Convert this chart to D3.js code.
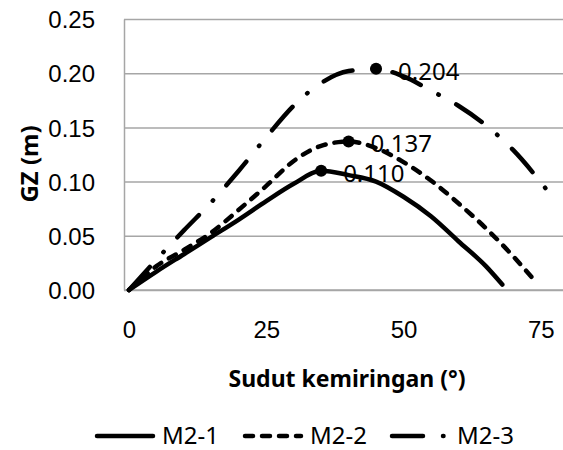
<!DOCTYPE html>
<html>
<head>
<meta charset="utf-8">
<script src="https://cdn.jsdelivr.net/npm/d3@7/dist/d3.min.js"></script>
<style>
  body { margin: 0; background: #fff; }
  svg { display: block; font-family: "Noto Sans", "Open Sans", sans-serif; }
</style>
</head>
<body>
<svg id="chart" width="563" height="450"></svg>
<script>
// angles (deg) and GZ (m)
const angM21 = [0, 5, 10, 15, 20, 25, 30, 35, 40, 45, 50, 55, 60, 65, 68];
const gzM21  = [0, 0.017, 0.033, 0.049, 0.065, 0.082, 0.098, 0.110, 0.106, 0.100, 0.086, 0.068, 0.045, 0.022, 0.005];
const angM22 = [0, 5, 10, 15, 20, 25, 30, 35, 40, 45, 50, 55, 60, 65, 70, 74];
const gzM22  = [0, 0.022, 0.037, 0.053, 0.074, 0.096, 0.119, 0.133, 0.137, 0.131, 0.118, 0.101, 0.080, 0.057, 0.031, 0.008];
const angM23 = [0, 5, 10, 15, 20, 25, 30, 35, 40, 45, 50, 55, 60, 65, 70, 76];
const gzM23  = [0, 0.028, 0.055, 0.081, 0.110, 0.141, 0.170, 0.191, 0.202, 0.204, 0.197, 0.184, 0.170, 0.152, 0.129, 0.093];

const seriesNames = ["M2-1", "M2-2", "M2-3"];
const peakAngles = [35, 40, 45];
const peakValues = [0.110, 0.137, 0.204];
const xTicks = [0, 25, 50, 75];
const yTicks = [0, 0.05, 0.10, 0.15, 0.20, 0.25];

const dashes = [null, "8,9", "31,20,0.5,20"];

const svg = d3.select("#chart");
const W = 563;
const plotLeft = 124, plotTop = 19, plotBottom = 290;

const x = d3.scaleLinear().domain([0, 80]).range([129, 129 + 80 * 5.49]);
const y = d3.scaleLinear().domain([0, 0.25]).range([plotBottom, plotTop]);

// gridlines + y labels
const yAxis = svg.append("g")
  .attr("transform", `translate(${plotLeft},0)`)
  .call(d3.axisLeft(y).tickValues(yTicks).tickFormat(d3.format(".2f"))
    .tickSizeInner(-(W - plotLeft)).tickSizeOuter(0).tickPadding(29));
yAxis.select(".domain").attr("stroke", "#a6a6a6").attr("stroke-width", 1.5);
yAxis.selectAll(".tick line").attr("stroke", "#a6a6a6").attr("stroke-width", 1.5);
yAxis.selectAll(".tick text").attr("font-size", 24).attr("fill", "#000").attr("dy", "0.36em");

// x axis
const xAxis = svg.append("g")
  .attr("transform", `translate(0,${plotBottom})`)
  .call(d3.axisBottom(x).tickValues(xTicks).tickSize(0).tickPadding(31));
xAxis.select(".domain").remove();
xAxis.selectAll(".tick text").attr("font-size", 24).attr("fill", "#000");
svg.append("line")
  .attr("x1", plotLeft).attr("x2", W).attr("y1", plotBottom).attr("y2", plotBottom)
  .attr("stroke", "#a6a6a6").attr("stroke-width", 1.5);

// titles
svg.append("text")
  .attr("transform", `translate(28,164) rotate(-90)`)
  .attr("text-anchor", "middle").attr("dominant-baseline", "central")
  .attr("font-size", 24).attr("font-weight", "bold")
  .text("GZ (m)");
svg.append("text")
  .attr("x", 347).attr("y", 387)
  .attr("text-anchor", "middle")
  .attr("font-size", 23).attr("font-weight", "bold")
  .text("Sudut kemiringan (°)");

// curves
const line = d3.line()
  .x(d => x(d[0])).y(d => y(d[1]))
  .curve(d3.curveMonotoneX);

const allData = [
  d3.zip(angM21, gzM21),
  d3.zip(angM22, gzM22),
  d3.zip(angM23, gzM23)
];

allData.forEach((data, i) => {
  svg.append("path")
    .datum(data)
    .attr("d", line)
    .attr("fill", "none")
    .attr("stroke", "#000")
    .attr("stroke-width", 4.5)
    .attr("stroke-linecap", "round")
    .attr("stroke-dasharray", dashes[i]);
});

// peak markers + labels
svg.selectAll("circle.peak")
  .data(peakAngles)
  .join("circle")
  .classed("peak", true)
  .attr("cx", d => x(d))
  .attr("cy", (d, i) => y(peakValues[i]))
  .attr("r", 6)
  .attr("fill", "#000");

svg.selectAll("text.peak")
  .data(peakValues)
  .join("text")
  .classed("peak", true)
  .attr("x", (d, i) => x(peakAngles[i]) + 22)
  .attr("y", d => y(d) + 11)
  .attr("font-size", 24)
  .text(d => d3.format(".3f")(d));

// legend
const legendX = [95, 243, 390];
const legendY = 436;
seriesNames.forEach((name, i) => {
  svg.append("line")
    .attr("x1", legendX[i] + 2).attr("x2", legendX[i] + 58)
    .attr("y1", legendY).attr("y2", legendY)
    .attr("stroke", "#000").attr("stroke-width", 4.5)
    .attr("stroke-linecap", "round")
    .attr("stroke-dasharray", dashes[i]);
  svg.append("text")
    .attr("x", legendX[i] + 67)
    .attr("y", legendY + 8)
    .attr("font-size", 24)
    .text(name);
});
</script>
</body>
</html>
